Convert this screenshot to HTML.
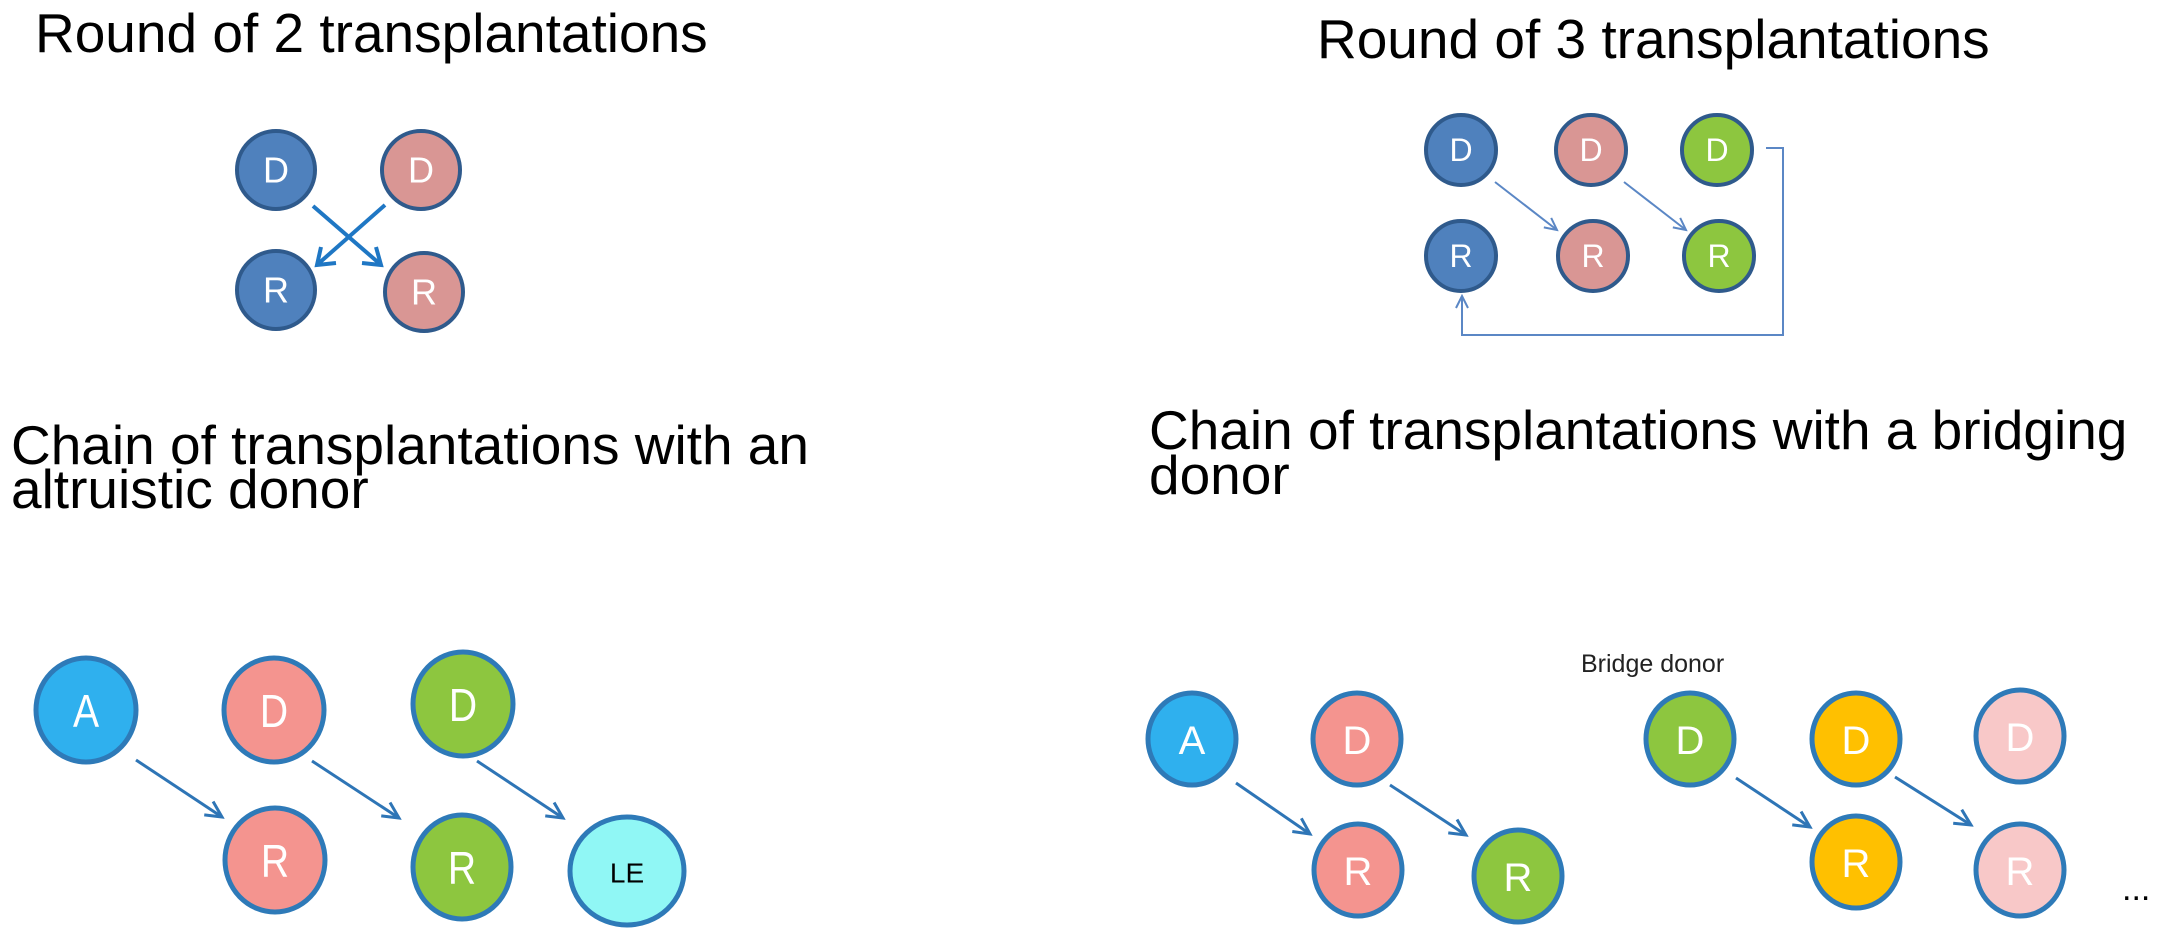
<!DOCTYPE html>
<html><head><meta charset="utf-8"><style>
html,body{margin:0;padding:0;background:#fff;}
svg{display:block;}
.t{font-family:"Liberation Sans",Arial,sans-serif;font-size:55px;fill:#000;}
.c{font-family:"Liberation Sans",Arial,sans-serif;fill:#fff;text-anchor:middle;dominant-baseline:central;}
</style></head><body>
<svg width="2181" height="931" viewBox="0 0 2181 931" xmlns="http://www.w3.org/2000/svg">
<defs>
<marker id="a2" markerWidth="16" markerHeight="16" refX="14" refY="8" orient="auto" markerUnits="userSpaceOnUse" viewBox="0 0 16 16"><path d="M2,2 L14,8 L2,14" fill="none" stroke="#5b87c5" stroke-width="2"/></marker>
<marker id="a3" markerWidth="22" markerHeight="22" refX="19" refY="11" orient="auto" markerUnits="userSpaceOnUse" viewBox="0 0 22 22"><path d="M3,3 L19,11 L3,19" fill="none" stroke="#2e75b6" stroke-width="3"/></marker>
</defs>

<text class="t" x="35" y="52">Round of 2 transplantations</text>
<text class="t" x="1317" y="58">Round of 3 transplantations</text>
<text class="t" x="11" y="464">Chain of transplantations with an</text>
<text class="t" x="11" y="508">altruistic donor</text>
<text class="t" x="1149" y="449">Chain of transplantations with a bridging</text>
<text class="t" x="1149" y="494">donor</text>

<!-- Round of 2 -->
<g stroke-width="4">
<circle cx="276" cy="170" r="39" fill="#4f81bd" stroke="#2f5a8c"/>
<circle cx="421" cy="170" r="39" fill="#d99694" stroke="#2f5a8c"/>
<circle cx="276" cy="290" r="39" fill="#4f81bd" stroke="#2f5a8c"/>
<circle cx="424" cy="292" r="39" fill="#d99694" stroke="#2f5a8c"/>
</g>
<g font-size="36"><text class="c" x="276" y="170">D</text><text class="c" x="421" y="170">D</text><text class="c" x="276" y="290">R</text><text class="c" x="424" y="292">R</text></g>
<g stroke="#1f77c4" stroke-width="4" fill="none">
<line x1="313" y1="206" x2="380" y2="264"/><path d="M362,263 L381,265 L376,247"/>
<line x1="385" y1="205" x2="318" y2="264"/><path d="M336,263 L317,265 L321,247"/>
</g>

<!-- Round of 3 -->
<g stroke-width="4" stroke="#2f5a8c">
<circle cx="1461" cy="150" r="35" fill="#4f81bd"/>
<circle cx="1591" cy="150" r="35" fill="#d99694"/>
<circle cx="1717" cy="150" r="35" fill="#8dc63f"/>
<circle cx="1461" cy="256" r="35" fill="#4f81bd"/>
<circle cx="1593" cy="256" r="35" fill="#d99694"/>
<circle cx="1719" cy="256" r="35" fill="#8dc63f"/>
</g>
<g font-size="32"><text class="c" x="1461" y="150">D</text><text class="c" x="1591" y="150">D</text><text class="c" x="1717" y="150">D</text><text class="c" x="1461" y="256">R</text><text class="c" x="1593" y="256">R</text><text class="c" x="1719" y="256">R</text></g>
<g stroke="#5b87c5" stroke-width="2" fill="none">
<line x1="1495" y1="182" x2="1557" y2="230" marker-end="url(#a2)"/>
<line x1="1624" y1="182" x2="1686" y2="230" marker-end="url(#a2)"/>
<polyline points="1766,148 1783,148 1783,335 1462,335 1462,296" marker-end="url(#a2)"/>
</g>

<!-- Chain altruistic -->
<g stroke-width="5" stroke="#2e7ab8">
<ellipse cx="86" cy="710" rx="50" ry="52" fill="#2fb0ee"/>
<ellipse cx="274" cy="710" rx="50" ry="52" fill="#f4948f"/>
<ellipse cx="463" cy="704" rx="50" ry="52" fill="#8dc63f"/>
<ellipse cx="275" cy="860" rx="50" ry="52" fill="#f4948f"/>
<ellipse cx="462" cy="867" rx="49" ry="52" fill="#8dc63f"/>
<ellipse cx="627" cy="871" rx="57" ry="54" fill="#90f7f5"/>
</g>
<g font-size="46"><text class="c" x="86" y="712" transform="translate(86 0) scale(0.85 1) translate(-86 0)">A</text><text class="c" x="274" y="712" transform="translate(274 0) scale(0.85 1) translate(-274 0)">D</text><text class="c" x="463" y="706" transform="translate(463 0) scale(0.85 1) translate(-463 0)">D</text><text class="c" x="275" y="862" transform="translate(275 0) scale(0.85 1) translate(-275 0)">R</text><text class="c" x="462" y="869" transform="translate(462 0) scale(0.85 1) translate(-462 0)">R</text></g>
<text class="c" x="627" y="873" font-size="28" style="fill:#000">LE</text>
<g stroke="#2e75b6" stroke-width="3" fill="none">
<line x1="136" y1="760" x2="222" y2="817" marker-end="url(#a3)"/>
<line x1="312" y1="761" x2="399" y2="818" marker-end="url(#a3)"/>
<line x1="477" y1="761" x2="563" y2="818" marker-end="url(#a3)"/>
</g>

<!-- Chain bridging -->
<g stroke-width="5" stroke="#2e7ab8">
<ellipse cx="1192" cy="739" rx="44" ry="46" fill="#2fb0ee"/>
<ellipse cx="1357" cy="739" rx="44" ry="46" fill="#f4948f"/>
<ellipse cx="1358" cy="870" rx="44" ry="46" fill="#f4948f"/>
<ellipse cx="1518" cy="876" rx="44" ry="46" fill="#8dc63f"/>
<ellipse cx="1690" cy="739" rx="44" ry="46" fill="#8dc63f"/>
<ellipse cx="1856" cy="739" rx="44" ry="46" fill="#ffc000"/>
<ellipse cx="2020" cy="736" rx="44" ry="46" fill="#f8c8c8"/>
<ellipse cx="1856" cy="862" rx="44" ry="46" fill="#ffc000"/>
<ellipse cx="2020" cy="870" rx="44" ry="46" fill="#f8c8c8"/>
</g>
<g font-size="40"><text class="c" x="1192" y="741">A</text><text class="c" x="1357" y="741">D</text><text class="c" x="1358" y="872">R</text><text class="c" x="1518" y="878">R</text><text class="c" x="1690" y="741">D</text><text class="c" x="1856" y="741">D</text><text class="c" x="2020" y="738">D</text><text class="c" x="1856" y="864">R</text><text class="c" x="2020" y="872">R</text></g>
<text x="1581" y="672" font-family="Liberation Sans, Arial, sans-serif" font-size="25" fill="#222">Bridge donor</text>
<text x="2122" y="900" font-family="Liberation Sans, Arial, sans-serif" font-size="34" fill="#000">...</text>
<g stroke="#2e75b6" stroke-width="3" fill="none">
<line x1="1236" y1="783" x2="1310" y2="834" marker-end="url(#a3)"/>
<line x1="1390" y1="785" x2="1466" y2="835" marker-end="url(#a3)"/>
<line x1="1736" y1="778" x2="1810" y2="827" marker-end="url(#a3)"/>
<line x1="1895" y1="777" x2="1971" y2="825" marker-end="url(#a3)"/>
</g>
</svg>
</body></html>
